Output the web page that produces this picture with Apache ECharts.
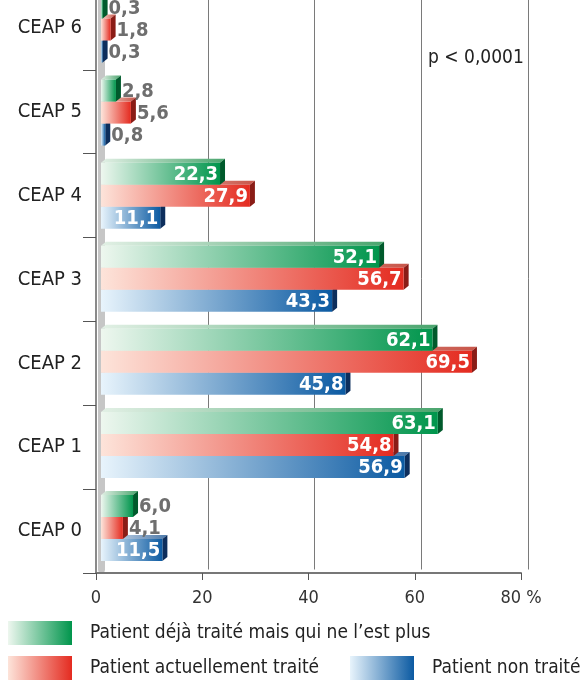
<!DOCTYPE html>
<html>
<head>
<meta charset="utf-8">
<script src="https://cdn.jsdelivr.net/npm/echarts@6/dist/echarts.min.js"></script>
<style>
  html, body { margin: 0; padding: 0; background: #fff; overflow: hidden; }
  /* la figure d'origine est coupée en haut : on décale le conteneur */
  #main { width: 583px; height: 695px; position: relative; top: -14px; }
</style>
</head>
<body>
<div id="main"></div>
<script>
// données (bas -> haut)
var categories = ['CEAP 0', 'CEAP 1', 'CEAP 2', 'CEAP 3', 'CEAP 4', 'CEAP 5', 'CEAP 6'];
var dejaTraite = [6.0, 63.1, 62.1, 52.1, 22.3, 2.8, 0.3];
var actuellementTraite = [4.1, 54.8, 69.5, 56.7, 27.9, 5.6, 1.8];
var nonTraite = [11.5, 56.9, 45.8, 43.3, 11.1, 0.8, 0.3];
var seriesNames = ['Patient déjà traité mais qui ne l’est plus', 'Patient actuellement traité', 'Patient non traité'];
var pValue = 'p < 0,0001';

var FONT = '"DejaVu Sans Condensed", "Liberation Sans Narrow", sans-serif';
var BAR_H = 22, DX = 5, DY = 4;

function grad(c0, c1) {
  return new echarts.graphic.LinearGradient(0, 0, 1, 0, [
    { offset: 0, color: c0 }, { offset: 1, color: c1 }
  ]);
}
function fmt(v) { return v.toFixed(1).replace('.', ','); }

var vert = { light: '#eef7ef', full: '#00954c', side: '#005a2c', top: '#e2f0e5', topEnd: '#4aa56e' };
var rouge = { light: '#fde4da', full: '#e42b20', side: '#8a1c16', top: '#f6dcd3', topEnd: '#c8564a' };
var bleu = { light: '#e8f4fc', full: '#0b5aa2', side: '#0d2e5c', top: '#dfeaf5', topEnd: '#4c79aa' };

// barre 3D : face avant, dessus, côté, étiquette
function makeRender(p, off) {
  return function (params, api) {
    var v = api.value(0);
    var c = api.coord([0, api.value(1)]);
    var e = api.coord([v, api.value(1)]);
    var x0 = c[0], x1 = e[0];
    var y0 = c[1] + off - BAR_H / 2;
    var inside = v >= 10;
    return {
      type: 'group',
      children: [
        { type: 'polygon', shape: { points: [[x0, y0], [x0 + DX, y0 - DY], [x1 + DX, y0 - DY], [x1, y0]] },
          style: { fill: grad(p.top, p.topEnd) } },
        { type: 'polygon', shape: { points: [[x1, y0], [x1 + DX, y0 - DY], [x1 + DX, y0 + BAR_H - DY], [x1, y0 + BAR_H]] },
          style: { fill: p.side } },
        { type: 'rect', shape: { x: x0, y: y0, width: x1 - x0, height: BAR_H },
          style: { fill: grad(p.light, p.full) } },
        { type: 'text', z2: 100,
          style: {
            text: fmt(v),
            x: inside ? x1 - 2 : x1 + DX + 1,
            y: y0 + BAR_H / 2 + 1,
            align: inside ? 'right' : 'left',
            verticalAlign: 'middle',
            fill: inside ? '#ffffff' : '#6e6e6e',
            fontSize: 20, fontWeight: 'bold', fontFamily: FONT
          } }
      ]
    };
  };
}

function toData(arr) { return arr.map(function (v, i) { return [v, i]; }); }

var chart = echarts.init(document.getElementById('main'));
chart.setOption({
  backgroundColor: '#fff',
  animation: false,
  title: {
    text: pValue, left: 423, top: 58,
    textStyle: { fontSize: 19, fontWeight: 'normal', color: '#222', fontFamily: FONT }
  },
  legend: [
    { data: [seriesNames[0]], left: 3, top: 630 },
    { data: [seriesNames[1]], left: 3, top: 665 },
    { data: [seriesNames[2]], left: 345, top: 665 }
  ].map(function (l) {
    return Object.assign(l, {
      icon: 'rect', itemWidth: 64, itemHeight: 24,
      textStyle: { fontSize: 19, color: '#222', fontFamily: FONT, padding: [0, 0, 0, 13] }
    });
  }),
  grid: [
    { left: 101, right: 55, top: 2, bottom: 111.5 },
    { left: 96, right: 62, top: 0, bottom: 108 }
  ],
  xAxis: [
    {
      gridIndex: 0, type: 'value', min: 0, max: 80, interval: 20,
      axisLabel: { show: false }, axisTick: { show: false }, axisLine: { show: false },
      splitLine: { show: true, lineStyle: { color: '#7a7a7a', width: 1 } }
    },
    {
      gridIndex: 1, type: 'value', min: 0, max: 80, interval: 20,
      splitLine: { show: false },
      axisLine: { show: true, lineStyle: { color: '#777', width: 2 } },
      axisTick: { show: true, length: 7, lineStyle: { color: '#555' } },
      axisLabel: {
        margin: 16, fontSize: 18, color: '#333', fontFamily: FONT,
        formatter: function (v) { return v === 80 ? '80 %' : String(v); }
      }
    }
  ],
  yAxis: [
    {
      gridIndex: 0, type: 'category', data: categories,
      axisLabel: { show: false }, axisTick: { show: false },
      axisLine: { show: true, lineStyle: { color: '#c6c6c6', width: 7 } }
    },
    {
      gridIndex: 1, type: 'category', data: categories,
      axisLine: { show: true, lineStyle: { color: '#8a8a8a', width: 2 } },
      axisTick: { show: true, length: 13, lineStyle: { color: '#555' } },
      axisLabel: { margin: 14, fontSize: 20, color: '#222', fontFamily: FONT }
    }
  ],
  series: [
    { name: seriesNames[2], type: 'custom', xAxisIndex: 0, yAxisIndex: 0,
      itemStyle: { color: grad(bleu.light, bleu.full) },
      encode: { x: 0, y: 1 }, data: toData(nonTraite), renderItem: makeRender(bleu, BAR_H) },
    { name: seriesNames[1], type: 'custom', xAxisIndex: 0, yAxisIndex: 0,
      itemStyle: { color: grad(rouge.light, rouge.full) },
      encode: { x: 0, y: 1 }, data: toData(actuellementTraite), renderItem: makeRender(rouge, 0) },
    { name: seriesNames[0], type: 'custom', xAxisIndex: 0, yAxisIndex: 0,
      itemStyle: { color: grad(vert.light, vert.full) },
      encode: { x: 0, y: 1 }, data: toData(dejaTraite), renderItem: makeRender(vert, -BAR_H) }
  ]
});
</script>
</body>
</html>
